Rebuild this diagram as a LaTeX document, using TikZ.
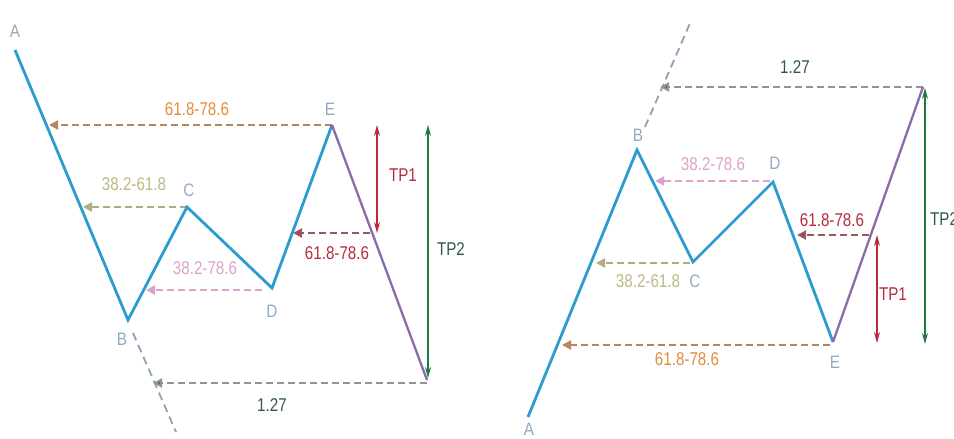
\documentclass[tikz,border=0pt]{standalone}
\usepackage{fontspec}
\setmainfont{Liberation Sans}
\usetikzlibrary{arrows.meta}
\definecolor{wave}{HTML}{2C9BD0}
\definecolor{legF}{HTML}{8A6BA8}
\definecolor{ptlab}{HTML}{92AAC2}
\definecolor{orng}{HTML}{E38C3C}
\definecolor{olv}{HTML}{C4BE84}
\definecolor{pnk}{HTML}{DDA2CC}
\definecolor{rdd}{HTML}{B82A3C}
\definecolor{grn}{HTML}{1F7A40}
\definecolor{dgrn}{HTML}{2E5A42}
\tikzset{
  x=1pt,y=-1pt,
  wavel/.style={draw=wave,line width=2.8pt,line join=miter},
  legl/.style={draw=legF,line width=2.3pt},
  extl/.style={draw=ptlab!80!gray,line width=1.8pt,dash pattern=on 8pt off 5pt},
  retr/.style={line width=2pt,dash pattern=on 7pt off 4pt},
  tparr/.style={line width=1.3pt,{Stealth[length=11pt,width=6pt]}-{Stealth[length=11pt,width=6pt]}},
  ptl/.style={text=ptlab,font=\fontsize{18}{20}\selectfont,inner sep=0pt,xscale=0.85},
  numl/.style={font=\fontsize{18.5}{20}\selectfont,inner sep=0pt,xscale=0.82},
}
\begin{document}
\begin{tikzpicture}
\useasboundingbox (0,0) rectangle (954,439);
\clip (0,0) rectangle (954,439);
% ---------------- left pattern ----------------
\coordinate (A1) at (15,50);
\coordinate (B1) at (128,320);
\coordinate (C1) at (187,207);
\coordinate (D1) at (272,288);
\coordinate (E1) at (332,125);
\coordinate (F1) at (427,380);
\coordinate (X1s) at (133,333);
\coordinate (X1e) at (176,432);
% retracement targets
\coordinate (o1) at (49,125);
\coordinate (y1) at (83,207);
\coordinate (p1) at (146,290);
\coordinate (r1s) at (370,233);
\coordinate (r1) at (293,233);
\coordinate (g1s) at (427,383);
\coordinate (g1) at (153,383);
\coordinate (c1s) at (332,125);
\coordinate (d1s) at (262,290);

\draw[extl] (X1s) -- (X1e);
\draw[retr,draw=orng!55!gray,-{Triangle[length=9pt,width=9pt,fill=orng]}] (c1s) -- (o1);
\draw[retr,draw=olv!70!gray,-{Triangle[length=9pt,width=9pt,fill=olv!80!gray]}] (C1) -- (y1);
\draw[retr,draw=pnk,-{Triangle[length=9pt,width=9pt,fill=pnk]}] (d1s) -- (p1);
\draw[retr,draw=rdd!45!gray,-{Triangle[length=9pt,width=9pt,fill=rdd]}] (r1s) -- (r1);
\draw[retr,draw=gray!85,-{Triangle[length=9pt,width=9pt,fill=grn]}] (g1s) -- (g1);

\draw[wavel] (A1) -- (B1) -- (C1) -- (D1) -- (E1);
\draw[legl] (E1) -- (F1);

\coordinate (t1a) at (377,125);
\coordinate (t1b) at (377,233);
\draw[tparr,draw=rdd] (t1a) -- (t1b);
\coordinate (t2a) at (428,125);
\coordinate (t2b) at (428,378);
\draw[tparr,draw=grn] (t2a) -- (t2b);

\node[ptl] (lA1) at (15,31) {A};
\node[ptl] (lB1) at (122,339) {B};
\node[ptl] (lC1) at (189,190) {C};
\node[ptl] (lD1) at (272,311) {D};
\node[ptl] (lE1) at (330,109) {E};

\node[numl,text=orng] (n1a) at (197,109) {61.8-78.6};
\node[numl,text=olv!90!gray] (n1b) at (134,184) {38.2-61.8};
\node[numl,text=pnk] (n1c) at (205,268) {38.2-78.6};
\node[numl,text=rdd] (n1d) at (337,253) {61.8-78.6};
\node[numl,text=dgrn] (n1e) at (272,405) {1.27};
\node[numl,text=rdd] (n1f) at (403,175) {TP1};
\node[numl,text=dgrn] (n1g) at (451,249) {TP2};

% ---------------- right pattern ----------------
\coordinate (A2) at (528,417);
\coordinate (B2) at (637,150);
\coordinate (C2) at (693,262);
\coordinate (D2) at (773,182);
\coordinate (E2) at (833,342);
\coordinate (F2) at (923,87);
\coordinate (X2s) at (645,127);
\coordinate (X2e) at (691,21);
\coordinate (g2) at (660,87);
\coordinate (p2) at (655,181);
\coordinate (r2s) at (869,235);
\coordinate (r2) at (797,235);
\coordinate (y2) at (596,263);
\coordinate (o2) at (562,345);
\coordinate (d2s) at (770,181);
\coordinate (c2s) at (690,263);
\coordinate (e2s) at (830,345);

\draw[extl] (X2s) -- (X2e);
\draw[retr,draw=gray!85,-{Triangle[length=9pt,width=9pt,fill=grn]}] (F2) -- (g2);
\draw[retr,draw=pnk,-{Triangle[length=9pt,width=9pt,fill=pnk]}] (d2s) -- (p2);
\draw[retr,draw=rdd!45!gray,-{Triangle[length=9pt,width=9pt,fill=rdd]}] (r2s) -- (r2);
\draw[retr,draw=olv!70!gray,-{Triangle[length=9pt,width=9pt,fill=olv!80!gray]}] (c2s) -- (y2);
\draw[retr,draw=orng!55!gray,-{Triangle[length=9pt,width=9pt,fill=orng]}] (e2s) -- (o2);

\draw[wavel] (A2) -- (B2) -- (C2) -- (D2) -- (E2);
\draw[legl] (E2) -- (F2);

\coordinate (t3a) at (877,235);
\coordinate (t3b) at (877,343);
\draw[tparr,draw=rdd] (t3a) -- (t3b);
\coordinate (t4a) at (925,88);
\coordinate (t4b) at (925,344);
\draw[tparr,draw=grn] (t4a) -- (t4b);

\node[ptl] (lA2) at (529,429) {A};
\node[ptl] (lB2) at (638,135) {B};
\node[ptl] (lC2) at (695,281) {C};
\node[ptl] (lD2) at (775,163) {D};
\node[ptl] (lE2) at (835,362) {E};

\node[numl,text=dgrn] (n2a) at (795,67) {1.27};
\node[numl,text=pnk] (n2b) at (713,164) {38.2-78.6};
\node[numl,text=rdd] (n2c) at (832,220) {61.8-78.6};
\node[numl,text=olv!90!gray] (n2d) at (648,281) {38.2-61.8};
\node[numl,text=orng] (n2e) at (687,359) {61.8-78.6};
\node[numl,text=rdd] (n2f) at (893,294) {TP1};
\node[numl,text=dgrn,anchor=west] (n2g) at (930,219) {TP2};
\end{tikzpicture}
\end{document}
